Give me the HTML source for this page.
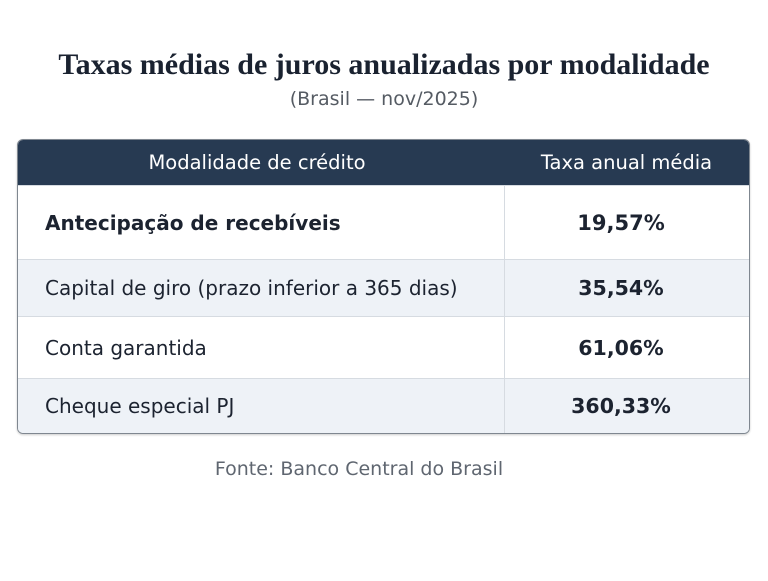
<!DOCTYPE html>
<html><head><meta charset="utf-8"><style>
body{margin:0;width:768px;height:581px;background:#fff;font-family:"DejaVu Sans","Liberation Sans",sans-serif;position:relative;overflow:hidden}
.t{position:absolute;left:0;width:768px;text-align:center}
#title{top:48px;font-family:"Liberation Serif",serif;font-weight:bold;font-size:30px;color:#1a2230}
#sub{top:88px;font-size:19px;color:#555b63}
#src{top:458px;left:-25px;font-size:19px;color:#5f6670}
table{position:absolute;left:17px;top:139px;width:733px;border-collapse:separate;border-spacing:0;border:1px solid #7f8790;border-radius:6px;overflow:hidden;box-shadow:0 1px 2px rgba(0,0,0,.2);table-layout:fixed}
th{background:#273a52;color:#fff;font-weight:normal;font-size:19.5px;height:45px;padding:0}
td{font-size:20px;color:#1c2330;padding:0 0 0 27px;border-top:1px solid #d6dbe1}
td.v{text-align:center;padding:0 12px 0 0;font-weight:bold;font-size:20.5px;border-left:1px solid #d6dbe1}
tr.alt td{background:#eef2f7}
</style></head><body>
<div class="t" id="title">Taxas médias de juros anualizadas por modalidade</div>
<div class="t" id="sub">(Brasil — nov/2025)</div>
<table>
<colgroup><col style="width:486px"><col></colgroup>
<tr><th style="padding-right:8px">Modalidade de crédito</th><th>Taxa anual média</th></tr>
<tr style="height:74px"><td style="font-weight:bold">Antecipação de recebíveis</td><td class="v" style="font-size:21px">19,57%</td></tr>
<tr class="alt" style="height:57px"><td>Capital de giro (prazo inferior a 365 dias)</td><td class="v">35,54%</td></tr>
<tr style="height:62px"><td>Conta garantida</td><td class="v">61,06%</td></tr>
<tr class="alt" style="height:55px"><td>Cheque especial PJ</td><td class="v">360,33%</td></tr>
</table>
<div class="t" id="src">Fonte: Banco Central do Brasil</div>
</body></html>
